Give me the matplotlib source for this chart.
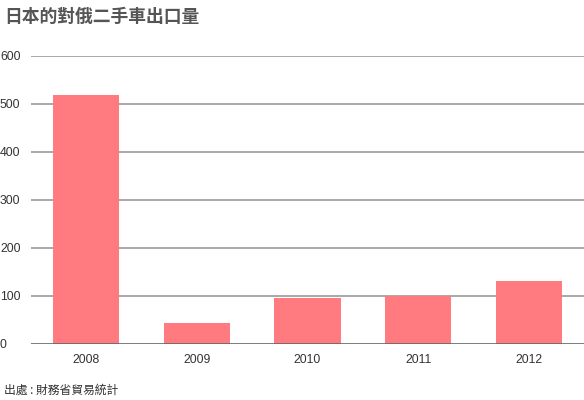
import matplotlib
matplotlib.use("Agg")
import matplotlib.pyplot as plt

plt.rcParams['font.family'] = ['Liberation Sans', 'Noto Sans CJK TC', 'DejaVu Sans']

years = ["2008", "2009", "2010", "2011", "2012"]
values = [518, 44, 95, 100, 131]
yticks = [0, 100, 200, 300, 400, 500, 600]

fig = plt.figure(figsize=(5.84, 4.0), dpi=100)
ax = fig.add_axes([31/584, 0.14, 553/584, 0.72])

ax.bar(range(len(years)), values, width=0.6, color="#FF7B7F", zorder=3)
ax.set_xlim(-0.5, len(years) - 0.5)
ax.set_ylim(0, 600)
ax.set_yticks(yticks)
ax.set_xticks(range(len(years)))
ax.set_xticklabels(years)
for y in yticks[1:]:
    ax.axhline(y, color="#999999", linewidth=1.2, zorder=1)
ax.axhline(0, color="#666666", linewidth=1.2, zorder=4)

for s in ax.spines.values():
    s.set_visible(False)
ax.tick_params(axis='both', length=0, labelsize=8.8, colors="#333333")
ax.tick_params(axis='x', pad=7)
for lab in ax.get_yticklabels():
    lab.set_horizontalalignment('left')
    lab.set_x(-31/553)
ax.tick_params(axis='y', pad=0)

fig.text(4/584, 1 - 17/400, "日本的對俄二手車出口量", fontsize=12.8, fontweight='bold',
         color="#555555", va='center', ha='left', family=['Noto Sans CJK TC', 'DejaVu Sans'])
fig.text(4/584, 1 - 390/400, "出處 : 財務省貿易統計", fontsize=8.5,
         color="#333333", va='center', ha='left', family=['Noto Sans CJK TC', 'DejaVu Sans'])

fig.savefig("out.png", dpi=100)
